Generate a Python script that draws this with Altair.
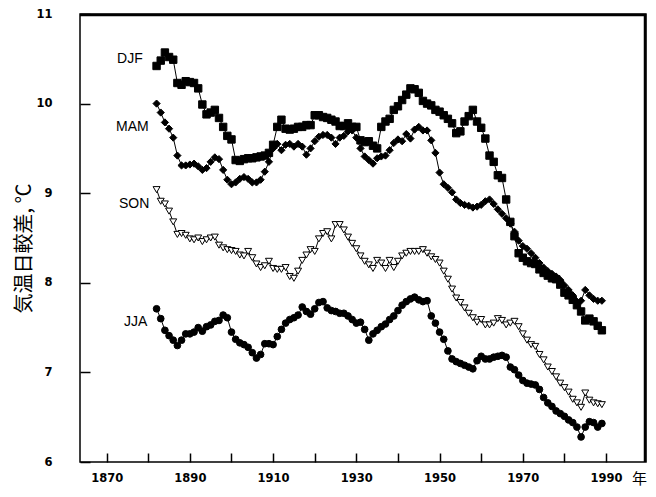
import altair as alt
import pandas as pd

years = list(range(1882, 1990))

djf = [10.42, 10.48, 10.57, 10.52, 10.49, 10.23, 10.21, 10.25, 10.24, 10.23,
       10.17, 9.99, 9.88, 9.90, 9.93, 9.84, 9.74, 9.64, 9.60, 9.37,
       9.36, 9.38, 9.39, 9.39, 9.40, 9.41, 9.42, 9.45, 9.54, 9.74,
       9.82, 9.72, 9.71, 9.72, 9.74, 9.74, 9.76, 9.76, 9.87, 9.87,
       9.85, 9.84, 9.82, 9.80, 9.75, 9.75, 9.78, 9.74, 9.74, 9.59,
       9.57, 9.58, 9.53, 9.50, 9.74, 9.80, 9.83, 9.93, 9.97, 10.04,
       10.10, 10.17, 10.16, 10.12, 10.03, 10.00, 9.98, 9.93, 9.91, 9.87,
       9.83, 9.78, 9.67, 9.69, 9.80, 9.86, 9.93, 9.80, 9.73, 9.61,
       9.42, 9.35, 9.20, 9.17, 8.93, 8.68, 8.52, 8.33, 8.28, 8.24,
       8.22, 8.21, 8.15, 8.11, 8.08, 8.05, 8.04, 7.98, 7.89, 7.86,
       7.81, 7.75, 7.68, 7.58, 7.60, 7.57, 7.52, 7.47]

mam = [10.00, 9.90, 9.79, 9.72, 9.62, 9.42, 9.31, 9.31, 9.32, 9.33,
       9.30, 9.26, 9.28, 9.35, 9.40, 9.38, 9.26, 9.15, 9.10, 9.12,
       9.16, 9.18, 9.16, 9.12, 9.12, 9.15, 9.24, 9.35, 9.50, 9.55,
       9.48, 9.54, 9.55, 9.52, 9.55, 9.52, 9.43, 9.50, 9.58, 9.63,
       9.65, 9.65, 9.62, 9.55, 9.62, 9.64, 9.69, 9.70, 9.62, 9.50,
       9.41, 9.37, 9.33, 9.39, 9.41, 9.42, 9.48, 9.56, 9.60, 9.58,
       9.66, 9.61, 9.71, 9.74, 9.70, 9.70, 9.59, 9.45, 9.23, 9.10,
       9.06, 9.01, 8.93, 8.89, 8.87, 8.86, 8.84, 8.85, 8.87, 8.91,
       8.93, 8.88, 8.82, 8.77, 8.72, 8.66, 8.57, 8.47, 8.41, 8.38,
       8.33, 8.28, 8.22, 8.17, 8.13, 8.10, 8.07, 8.03, 7.97, 7.92,
       7.86, 7.79, 7.80, 7.92, 7.86, 7.82, 7.80, 7.80]

son = [9.04, 8.91, 8.88, 8.80, 8.68, 8.54, 8.55, 8.53, 8.49, 8.48,
       8.50, 8.46, 8.48, 8.50, 8.51, 8.42, 8.39, 8.37, 8.36, 8.35,
       8.31, 8.30, 8.35, 8.28, 8.21, 8.17, 8.19, 8.24, 8.16, 8.15,
       8.15, 8.17, 8.07, 8.05, 8.13, 8.25, 8.31, 8.37, 8.35, 8.49,
       8.55, 8.57, 8.49, 8.65, 8.65, 8.59, 8.51, 8.44, 8.38, 8.30,
       8.24, 8.20, 8.16, 8.25, 8.22, 8.16, 8.25, 8.17, 8.24, 8.30,
       8.33, 8.35, 8.35, 8.35, 8.37, 8.33, 8.29, 8.26, 8.22, 8.13,
       8.04, 7.93, 7.83, 7.78, 7.72, 7.66, 7.61, 7.56, 7.59, 7.53,
       7.53, 7.55, 7.60, 7.58, 7.53, 7.55, 7.57, 7.51, 7.43, 7.36,
       7.31, 7.29, 7.20, 7.14, 7.06, 7.01, 6.95, 6.88, 6.83, 6.78,
       6.70, 6.66, 6.61, 6.77, 6.69, 6.66, 6.65, 6.64]

jja = [7.71, 7.60, 7.47, 7.41, 7.36, 7.30, 7.36, 7.43, 7.43, 7.45,
       7.50, 7.46, 7.51, 7.53, 7.57, 7.58, 7.64, 7.61, 7.45, 7.37,
       7.33, 7.31, 7.28, 7.22, 7.16, 7.20, 7.32, 7.32, 7.31, 7.40,
       7.48, 7.55, 7.59, 7.61, 7.64, 7.73, 7.68, 7.65, 7.71, 7.78,
       7.79, 7.72, 7.69, 7.68, 7.66, 7.66, 7.63, 7.59, 7.55, 7.56,
       7.48, 7.36, 7.43, 7.47, 7.51, 7.54, 7.59, 7.63, 7.69, 7.75,
       7.79, 7.82, 7.84, 7.81, 7.79, 7.80, 7.63, 7.55, 7.45, 7.37,
       7.24, 7.15, 7.12, 7.10, 7.08, 7.06, 7.04, 7.13, 7.18, 7.15,
       7.15, 7.17, 7.18, 7.19, 7.17, 7.06, 7.03, 6.97, 6.91, 6.88,
       6.87, 6.86, 6.81, 6.72, 6.66, 6.62, 6.57, 6.54, 6.51, 6.47,
       6.44, 6.39, 6.28, 6.39, 6.45, 6.44, 6.39, 6.43]

series_names = ["DJF", "MAM", "SON", "JJA"]
series_values = [djf, mam, son, jja]

label_year = [1875.6, 1876.2, 1876.6, 1877.0]
label_value = [10.50, 9.74, 8.88, 7.56]

x_ticks = list(range(1870, 2000, 10))
y_ticks = [6, 7, 8, 9, 10, 11]

W, H = 566, 448

rows = []
for name, vals in zip(series_names, series_values):
    for yr, v in zip(years, vals):
        rows.append({"year": yr, "value": v, "season": name})
df = pd.DataFrame(rows)
labels_df = pd.DataFrame({"year": label_year, "value": label_value, "season": series_names})

xscale = alt.Scale(domain=[1863.6, 1999.6], nice=False, zero=False)
yscale = alt.Scale(domain=[6, 11], nice=False, zero=False)

xaxis = alt.Axis(values=x_ticks, format="d", offset=-9, tickSize=9, tickWidth=1.5,
                 tickColor="black", domain=False, grid=False,
                 labelExpr="datum.value % 20 == 10 ? datum.label : ''",
                 labelPadding=10, labelFont="DejaVu Sans", labelFontSize=11.5,
                 labelFontWeight="bold", labelColor="black",
                 title="年", titleFont="Noto Sans CJK JP", titleFontSize=15,
                 titleFontWeight="normal", titleColor="black",
                 titleX=559, titleY=25, titleAlign="center", titleBaseline="middle")

yaxis = alt.Axis(values=y_ticks, format="d", offset=-10, tickSize=10, tickWidth=1.5,
                 tickColor="black", domain=False, grid=False,
                 labelPadding=28, labelFont="DejaVu Sans", labelFontSize=11.5,
                 labelFontWeight="bold", labelColor="black",
                 title="気温日較差, ℃", titleFont="Noto Sans CJK JP", titleFontSize=20,
                 titleFontWeight="normal", titleColor="black", titleAngle=270,
                 titleX=-66, titleY=234, titleAlign="center", titleBaseline="middle")

base = alt.Chart(df)

one = pd.DataFrame({"f": [0]})
top_rule = alt.Chart(one).mark_rule(color="black", strokeWidth=2.5).encode(
    x=alt.value(0), x2=alt.value(W), y=alt.value(1))
right_rule = alt.Chart(one).mark_rule(color="black", strokeWidth=2.5).encode(
    x=alt.value(W - 1), y=alt.value(0), y2=alt.value(H))

lines = base.mark_line(color="black", strokeWidth=1).encode(
    x=alt.X("year:Q", scale=xscale, axis=xaxis),
    y=alt.Y("value:Q", scale=yscale, axis=yaxis),
    detail="season:N",
)

points = base.mark_point(filled=False, opacity=1, stroke="black", strokeWidth=1).encode(
    x=alt.X("year:Q", scale=xscale),
    y=alt.Y("value:Q", scale=yscale),
    shape=alt.Shape("season:N", scale=alt.Scale(domain=series_names,
                    range=["square", "diamond", "triangle-down", "circle"]), legend=None),
    fill=alt.Fill("season:N", scale=alt.Scale(domain=series_names,
                  range=["black", "black", "white", "black"]), legend=None),
    size=alt.Size("season:N", scale=alt.Scale(domain=series_names,
                  range=[55, 45, 42, 45]), legend=None),
)

texts = alt.Chart(labels_df).mark_text(font="Liberation Sans", fontSize=14, color="black",
                                        align="center", baseline="middle").encode(
    x=alt.X("year:Q", scale=xscale),
    y=alt.Y("value:Q", scale=yscale),
    text="season:N",
)

chart = alt.layer(top_rule, right_rule, lines, points, texts).properties(
    width=W, height=H,
    autosize=alt.AutoSizeParams(type="none"),
    padding={"left": 72, "top": 6, "right": 2, "bottom": 35},
    background="white",
).configure_view(stroke="black", strokeWidth=1.5)

chart.save("out.html", embed_options={"renderer": "svg", "actions": False})
